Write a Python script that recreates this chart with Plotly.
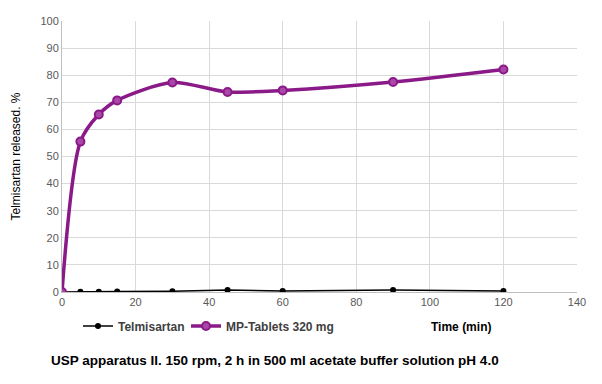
import plotly.graph_objects as go

time_min = [0, 5, 10, 15, 30, 45, 60, 90, 120]
telmisartan = [0, 0.1, 0.1, 0.2, 0.3, 0.7, 0.4, 0.7, 0.4]
mp_tablets = [0, 55.5, 65.5, 70.7, 77.3, 73.8, 74.4, 77.5, 82.1]

purple = "#8B1A89"
font_main = "Liberation Sans, Arial, sans-serif"

# page body has an 8px default margin; figure is sized to fit the window
W, H = 594, 376
L, T, R, B = 54, 13, 25, 92
PW, PH = W - L - R, H - T - B


def px(xw):
    return (xw - 8 - L) / PW


def py(yw):
    return 1 - (yw - 8 - T) / PH


fig = go.Figure()
fig.add_trace(go.Scatter(
    x=time_min, y=telmisartan, name="<b>Telmisartan</b>", mode="lines+markers",
    line=dict(color="black", width=1.5),
    marker=dict(symbol="circle", size=6, color="black"),
    legend="legend",
))
fig.add_trace(go.Scatter(
    x=time_min, y=mp_tablets, name="<b>MP-Tablets 320 mg</b>", mode="lines+markers",
    line=dict(color=purple, width=3.5, shape="spline", smoothing=0.8),
    marker=dict(symbol="circle", size=8, color="#A948A7", line=dict(color=purple, width=2)),
    legend="legend2",
))

leg_common = dict(orientation="h", xref="container", yref="container", xanchor="left",
                  yanchor="middle", y=1 - (326 - 8) / H,
                  font=dict(size=12, color="#404040", family=font_main),
                  bgcolor="rgba(0,0,0,0)")

fig.update_layout(
    width=W, height=H,
    margin=dict(l=L, r=R, t=T, b=B),
    paper_bgcolor="white", plot_bgcolor="white",
    font=dict(family=font_main, color="#595959", size=11),
    showlegend=True,
    legend=dict(x=(78 - 8) / W, **leg_common),
    legend2=dict(x=(186 - 8) / W, **leg_common),
    xaxis=dict(range=[0, 140], tickvals=[0, 20, 40, 60, 80, 100, 120, 140],
               showgrid=True, gridcolor="#d9d9d9", gridwidth=1, automargin=False,
               zeroline=False, showline=True, linecolor="#bfbfbf",
               ticks="", tickfont=dict(size=11, color="#595959")),
    yaxis=dict(range=[0, 100], tickvals=list(range(0, 101, 10)),
               showgrid=True, gridcolor="#d9d9d9", gridwidth=1, automargin=False,
               zeroline=False, showline=True, linecolor="#bfbfbf",
               ticks="", tickfont=dict(size=11, color="#595959"),
               title=dict(text="Telmisartan released. %", standoff=17,
                          font=dict(size=12, color="#000000"))),
    annotations=[
        dict(text="<b>Time (min)</b>", xref="paper", yref="paper", x=px(493),
             y=py(327), xanchor="right", yanchor="middle", showarrow=False,
             font=dict(size=12, color="black", family=font_main)),
        dict(text="<b>USP apparatus II. 150 rpm, 2 h in 500 ml acetate buffer solution pH 4.0</b>",
             xref="paper", yref="paper", x=px(275), y=py(360),
             xanchor="center", yanchor="middle",
             showarrow=False, font=dict(size=13.5, color="black", family=font_main)),
    ],
)

fig.write_html("out.html")
